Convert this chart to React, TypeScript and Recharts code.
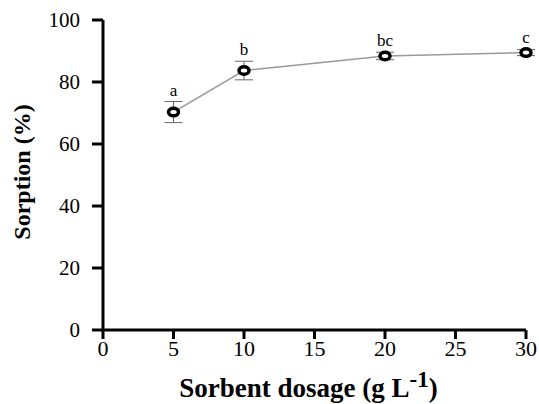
import { LineChart, Line, XAxis, YAxis, ErrorBar, LabelList } from "recharts";

const dosage = [5, 10, 20, 30];
const sorption = [70.3, 83.7, 88.4, 89.5];
const errors = [3.4, 3.0, 1.2, 1.0];
const letters = ["a", "b", "bc", "c"];
const xTicks = [0, 5, 10, 15, 20, 25, 30];
const yTicks = [0, 20, 40, 60, 80, 100];

const data = dosage.map((d, i) => ({
  dosage: d,
  sorption: sorption[i],
  err: errors[i],
  top: sorption[i] + errors[i],
  letter: letters[i],
}));

const serif = "Liberation Serif";

const RingDot = (props: any) => {
  const { cx, cy, index } = props;
  if (cx == null || cy == null) return null;
  return (
    <ellipse key={`dot-${index}`} cx={cx} cy={cy} rx={5} ry={3.8} fill="#fff" stroke="#000" strokeWidth={3.5} />
  );
};

const XTick = (props: any) => {
  const { x, y, payload } = props;
  return (
    <text x={x} y={y + 17} textAnchor="middle" fontFamily={serif} fontSize={22} fill="#000" style={{ fontFamily: serif }}>
      {payload.value}
    </text>
  );
};

const YTick = (props: any) => {
  const { x, y, payload } = props;
  return (
    <text x={x} y={y + 7} textAnchor="end" fontFamily={serif} fontSize={21} fill="#000" style={{ fontFamily: serif }}>
      {payload.value}
    </text>
  );
};

const LetterLabel = (props: any) => {
  const { x, y, width, value } = props;
  return (
    <text x={x + (width || 0) / 2} y={y - 6} textAnchor="middle" fontFamily={serif} fontSize={17} fill="#000" style={{ fontFamily: serif }}>
      {value}
    </text>
  );
};

const YTitle = (props: any) => {
  const { viewBox } = props;
  const cy = viewBox.y + viewBox.height / 2 - 3;
  return (
    <text
      x={22}
      y={cy}
      transform={`rotate(-90, 22, ${cy})`}
      textAnchor="middle"
      dominantBaseline="central"
      fontFamily={serif}
      fontWeight="bold"
      fontSize={24}
      style={{ fontFamily: serif }}
      fill="#000"
    >
      Sorption (%)
    </text>
  );
};

const XTitle = (props: any) => {
  const { viewBox } = props;
  const cx = viewBox.x + viewBox.width / 2 - 6;
  return (
    <text x={cx} y={397} textAnchor="middle" fontFamily={serif} fontWeight="bold" fontSize={27} style={{ fontFamily: serif }} fill="#000">
      Sorbent dosage (g L
      <tspan dy={-10} fontSize={23}>-1</tspan>
      <tspan dy={10}>)</tspan>
    </text>
  );
};

export default function App() {
  return (
    <div style={{ position: "absolute", left: 0, top: 0, background: "#fff", fontFamily: serif }}>
      <LineChart width={539} height={404} data={data} margin={{ top: 20, right: 13, bottom: 0, left: 0 }}>
        <XAxis
          dataKey="dosage"
          type="number"
          domain={[0, 30]}
          ticks={xTicks}
          height={74}
          axisLine={{ stroke: "#000", strokeWidth: 3 }}
          tickLine={{ stroke: "#000", strokeWidth: 3 }}
          tickSize={9}
          tickMargin={0}
          tick={<XTick />}
          label={<XTitle />}
        />
        <YAxis
          type="number"
          domain={[0, 100]}
          ticks={yTicks}
          width={103}
          axisLine={{ stroke: "#000", strokeWidth: 3 }}
          tickLine={{ stroke: "#000", strokeWidth: 3 }}
          tickSize={11}
          tickMargin={12}
          tick={<YTick />}
          label={<YTitle />}
        />
        <Line dataKey="sorption" stroke="none" dot={false} activeDot={false} legendType="none" isAnimationActive={false}>
          <ErrorBar dataKey="err" direction="y" width={9} stroke="#666" strokeWidth={1} />
        </Line>
        <Line
          dataKey="sorption"
          stroke="#999"
          strokeWidth={1.5}
          dot={<RingDot />}
          activeDot={false}
          isAnimationActive={false}
        />
        <Line dataKey="top" stroke="none" dot={false} activeDot={false} isAnimationActive={false}>
          <LabelList dataKey="letter" content={<LetterLabel />} />
        </Line>
      </LineChart>
    </div>
  );
}
